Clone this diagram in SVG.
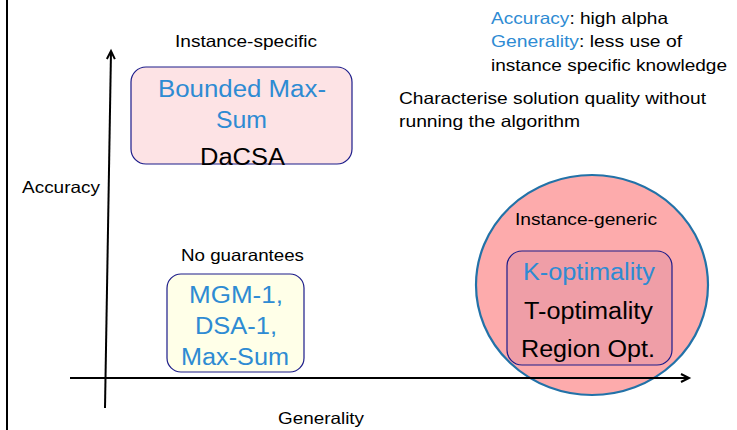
<svg xmlns="http://www.w3.org/2000/svg" width="737" height="430" viewBox="0 0 737 430">
  <style>
    text { font-family: "Liberation Sans", Arial, sans-serif; fill: #000; }
    .sm { font-size: 16.5px; }
    .lg { font-size: 23px; }
    .mid { text-anchor: middle; }
    .blue { fill: #2e8bd3; }
    .box { stroke: #1c1c8a; stroke-width: 1.2; }
    .axis { stroke: #000; stroke-width: 2; fill: none; }
  </style>
  <defs>
    <marker id="arrow" markerUnits="userSpaceOnUse" markerWidth="12" markerHeight="12" refX="9" refY="5" orient="auto">
      <path d="M1,1 L9,5 L1,9" fill="none" stroke="#000" stroke-width="2"/>
    </marker>
  </defs>

  <rect width="737" height="430" fill="#fff"/>

  <!-- page edge -->
  <line x1="7" y1="0" x2="7" y2="430" stroke="#000" stroke-width="2"/>

  <!-- notes -->
  <g id="notes">
    <text class="sm" x="491" y="24" textLength="177" lengthAdjust="spacingAndGlyphs"><tspan class="blue">Accuracy</tspan>: high alpha</text>
    <text class="sm" x="491" y="47" textLength="191" lengthAdjust="spacingAndGlyphs"><tspan class="blue">Generality</tspan>: less use of</text>
    <text class="sm" x="491" y="71" textLength="236" lengthAdjust="spacingAndGlyphs">instance specific knowledge</text>
    <text class="sm" x="399" y="104" textLength="307" lengthAdjust="spacingAndGlyphs">Characterise solution quality without</text>
    <text class="sm" x="399" y="127" textLength="181" lengthAdjust="spacingAndGlyphs">running the algorithm</text>
  </g>

  <!-- instance-generic region -->
  <g id="instance-generic">
    <ellipse cx="592" cy="285" rx="116" ry="110" fill="#fdabac" stroke="#2272a8" stroke-width="2.2"/>
    <text class="sm mid" x="586" y="225" textLength="142" lengthAdjust="spacingAndGlyphs">Instance-generic</text>
    <rect class="box" x="507" y="251" width="165" height="114" rx="15" fill="#ef9ea7"/>
    <text class="lg mid blue" x="589" y="280" textLength="132" lengthAdjust="spacingAndGlyphs">K-optimality</text>
    <text class="lg mid" x="588.5" y="319" textLength="129" lengthAdjust="spacingAndGlyphs">T-optimality</text>
    <text class="lg mid" x="588" y="357" textLength="134" lengthAdjust="spacingAndGlyphs">Region Opt.</text>
  </g>

  <!-- instance-specific -->
  <g id="instance-specific">
    <text class="sm mid" x="246" y="47" textLength="142" lengthAdjust="spacingAndGlyphs">Instance-specific</text>
    <rect class="box" x="131" y="67" width="221" height="97" rx="15" fill="#fde3e5"/>
    <text class="lg mid blue" x="242" y="97" textLength="168" lengthAdjust="spacingAndGlyphs">Bounded Max-</text>
    <text class="lg mid blue" x="241.5" y="128" textLength="51" lengthAdjust="spacingAndGlyphs">Sum</text>
    <text class="lg mid" x="242.5" y="165" textLength="85" lengthAdjust="spacingAndGlyphs">DaCSA</text>
  </g>

  <!-- no guarantees -->
  <g id="no-guarantees">
    <text class="sm mid" x="242.5" y="261" textLength="123" lengthAdjust="spacingAndGlyphs">No guarantees</text>
    <rect class="box" x="167" y="274" width="137" height="98" rx="14" fill="#ffffe8"/>
    <text class="lg mid blue" x="236" y="303" textLength="94" lengthAdjust="spacingAndGlyphs">MGM-1,</text>
    <text class="lg mid blue" x="236" y="334" textLength="82" lengthAdjust="spacingAndGlyphs">DSA-1,</text>
    <text class="lg mid blue" x="235" y="365" textLength="108" lengthAdjust="spacingAndGlyphs">Max-Sum</text>
  </g>

  <!-- axes -->
  <g id="axes">
    <line class="axis" x1="70" y1="378" x2="689" y2="378" marker-end="url(#arrow)"/>
    <line class="axis" x1="105" y1="408" x2="111" y2="51" marker-end="url(#arrow)"/>
    <text class="sm" x="22" y="193" textLength="78" lengthAdjust="spacingAndGlyphs">Accuracy</text>
    <text class="sm" x="278" y="424" textLength="86" lengthAdjust="spacingAndGlyphs">Generality</text>
  </g>
</svg>
